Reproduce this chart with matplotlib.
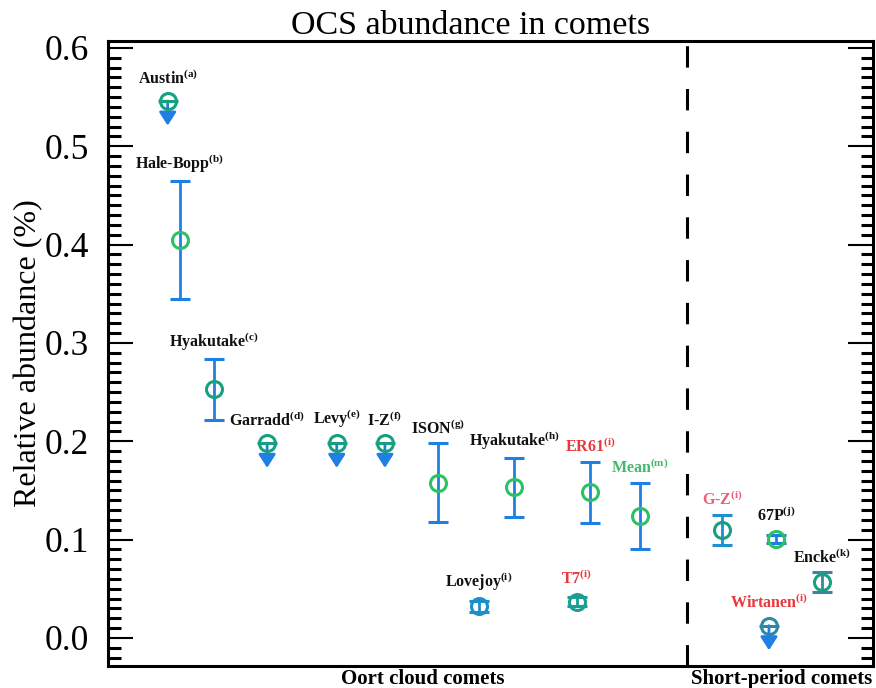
import matplotlib
matplotlib.use('Agg')
import matplotlib.pyplot as plt
from matplotlib.ticker import MultipleLocator
from matplotlib.transforms import blended_transform_factory

plt.rcParams['font.family'] = ['Liberation Serif', 'DejaVu Serif']
plt.rcParams['mathtext.fontset'] = 'custom'
plt.rcParams['mathtext.rm'] = 'Liberation Serif'
plt.rcParams['mathtext.bf'] = 'Liberation Serif:bold'

# comet data
names = ['Austin', 'Hale-Bopp', 'Hyakutake', 'Garradd', 'Levy', 'I-Z', 'ISON',
         'Hyakutake', 'ER61', 'Mean', 'Lovejoy', 'T7', 'G-Z', '67P', 'Wirtanen', 'Encke']
refs = ['a', 'b', 'c', 'd', 'e', 'f', 'g', 'h', 'i', 'm', 'i', 'i', 'i', 'j', 'i', 'k']
xpos = [7.8, 9.4, 13.9, 20.8, 29.9, 36.2, 43.1, 53.1, 63.0, 69.5,
        48.5, 61.3, 80.3, 87.3, 86.4, 93.3]
values = [0.546, 0.405, 0.253, 0.198, 0.198, 0.198, 0.158, 0.153, 0.148, 0.124,
          0.032, 0.037, 0.110, 0.101, 0.0125, 0.057]
errors = [0, 0.06, 0.031, 0, 0, 0, 0.04, 0.03, 0.031, 0.034,
          0.006, 0.005, 0.015, 0.004, 0, 0.01]
upper_limit = [True, False, False, True, True, True, False, False, False, False,
               False, False, False, False, True, False]
divider_x = 75.7
group_labels = ['Oort cloud comets', 'Short-period comets']
group_x = [41.2, 88.0]

# styles
teal = '#16a082'
green = '#2cc263'
blue = '#1f7fe3'
marker_colors = [teal, green, teal, teal, teal, teal, green, green, green, green,
                 '#1c8fc6', '#1a9e92', teal, green, '#2a8aa5', teal]
bar_colors = [blue, blue, blue, blue, blue, blue, blue, blue, blue, blue,
              '#1c8fc6', '#1a9e92', '#1f8fd0', blue, blue, '#3a86a0']
label_colors = ['#111111'] * 8 + ['#e8383d', '#44b86e', '#111111', '#e8383d',
                                  '#e8607a', '#111111', '#e8383d', '#111111']

fig = plt.figure(figsize=(8.76, 6.88), dpi=100)
ax = fig.add_axes([108 / 876, 1 - 666 / 688, 765 / 876, 625 / 688])

for i in range(len(names)):
    x, y = xpos[i], values[i]
    if upper_limit[i]:
        ax.annotate('', xy=(x, y - 0.025), xytext=(x, y),
                    arrowprops=dict(arrowstyle='-|>,head_length=0.5,head_width=0.32',
                                    color=bar_colors[i], lw=2, mutation_scale=16,
                                    shrinkA=0, shrinkB=0), zorder=2)
        ax.plot(x, y, marker='_', ms=14, mew=2.2, color=marker_colors[i], zorder=3)
        top = y + 0.008
    else:
        ax.errorbar(x, y, yerr=errors[i], fmt='none', ecolor=bar_colors[i],
                    elinewidth=2, capsize=7, capthick=2.2, zorder=2)
        top = max(y + errors[i], y + 0.008)
    ax.plot(x, y, 'o', ms=11.5, mfc='none', mec=marker_colors[i], mew=2.2, zorder=4)
    ax.annotate(names[i] + r'$^{\mathbf{(' + refs[i] + ')}}$', xy=(x, top),
                xytext=(0, 4), textcoords='offset points', ha='center', va='bottom',
                fontsize=11.5, fontweight='bold', color=label_colors[i])

ax.axvline(divider_x, color='black', lw=2.2, linestyle=(0, (7, 7)))

ax.set_xlim(0, 100)
ax.set_ylim(-0.0285, 0.607)
ax.set_xticks([])
ax.yaxis.set_major_locator(MultipleLocator(0.1))
ax.yaxis.set_minor_locator(MultipleLocator(0.01))
ax.set_yticks([0.0, 0.1, 0.2, 0.3, 0.4, 0.5, 0.6])
ax.set_yticklabels(['0.0', '0.1', '0.2', '0.3', '0.4', '0.5', '0.6'])
ax.tick_params(axis='y', which='both', direction='in', left=True, right=True,
               labelsize=25.5, pad=14)
ax.tick_params(axis='y', which='major', length=18, width=1.5)
ax.tick_params(axis='y', which='minor', length=9, width=2.2)
for s in ax.spines.values():
    s.set_linewidth(2.2)

ax.set_ylabel('Relative abundance (%)', fontsize=23, labelpad=1)
ax.set_title('OCS abundance in comets', fontsize=24.5, x=0.4745, pad=1)

trans = blended_transform_factory(ax.transData, fig.transFigure)
for lab, gx in zip(group_labels, group_x):
    ax.text(gx, 1 - 669 / 688, lab, transform=trans, ha='center', va='top',
            fontsize=15, fontweight='bold')

plt.savefig('out.png', dpi=100)
